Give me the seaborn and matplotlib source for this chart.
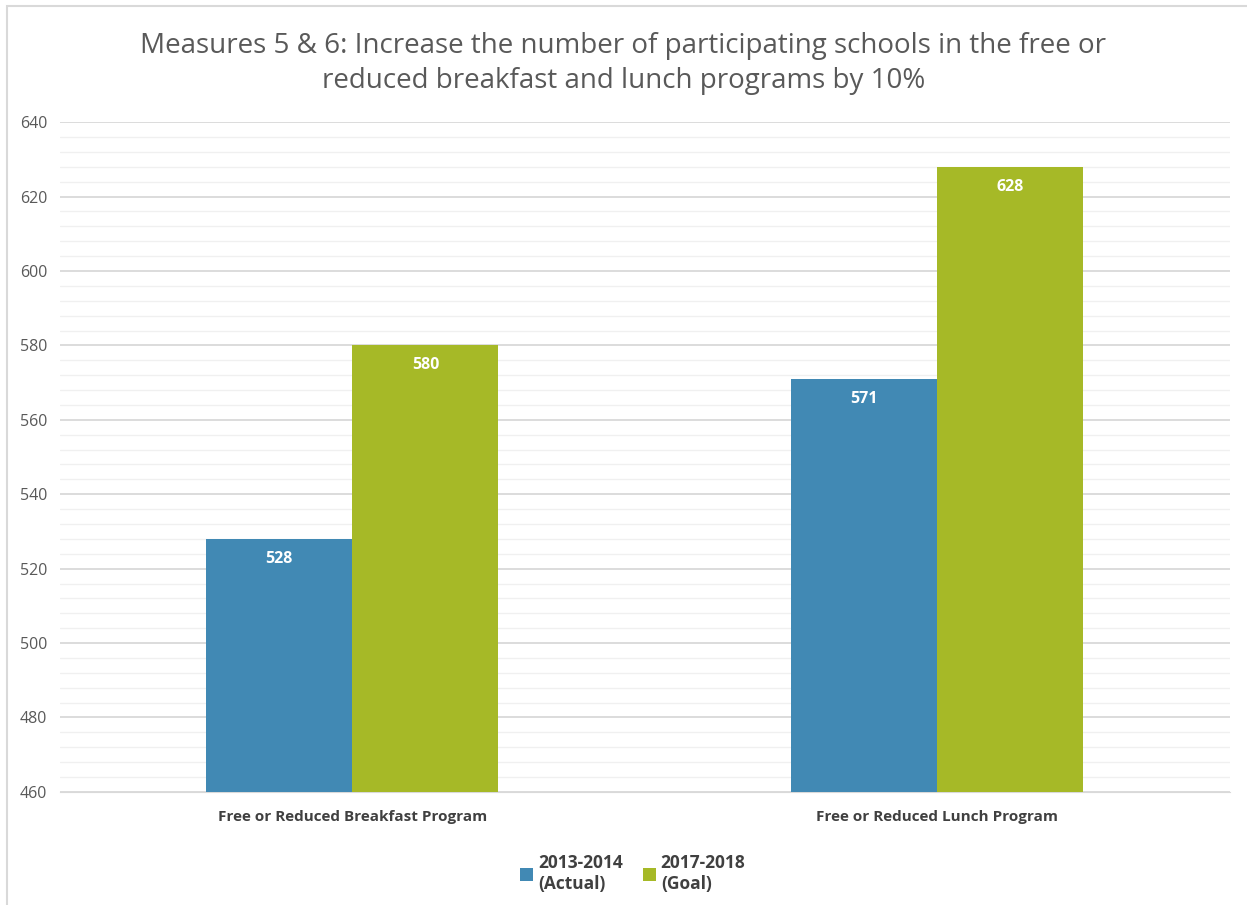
import numpy as np
import pandas as pd
import matplotlib
import matplotlib.pyplot as plt
import seaborn as sns
from matplotlib.patches import Rectangle
from matplotlib.ticker import MultipleLocator

# Data
programs = ["Free or Reduced Breakfast Program", "Free or Reduced Lunch Program"]
years = ["2013-2014\n(Actual)", "2017-2018\n(Goal)"]
actual_vals = [528, 571]
goal_vals = [580, 628]

df = pd.DataFrame({
    "Program": programs * 2,
    "Year": [years[0]] * 2 + [years[1]] * 2,
    "Schools": actual_vals + goal_vals,
})

sns.set_style("white")
plt.rcParams['font.family'] = ['Open Sans', 'DejaVu Sans']

palette = {years[0]: "#4189b4", years[1]: "#a6b927"}

fig = plt.figure(figsize=(12.47, 9.05), dpi=100)
ax = fig.add_axes([0.048, 0.125, 0.938, 0.74])

sns.barplot(data=df, x="Program", y="Schools", hue="Year", palette=palette,
            width=0.5, saturation=1, linewidth=0, ax=ax, zorder=3)

ax.set_ylim(460, 640)
ax.yaxis.set_major_locator(MultipleLocator(20))
ax.yaxis.set_minor_locator(MultipleLocator(4))
ax.grid(True, which="major", axis="y", color="#d9d9d9", linewidth=1.3, zorder=0)
ax.grid(True, which="minor", axis="y", color="#f0f0f0", linewidth=1.0, zorder=0)
ax.set_axisbelow(True)
for s in ["top", "right", "left"]:
    ax.spines[s].set_visible(False)
ax.spines["bottom"].set_color("#d9d9d9")
ax.tick_params(axis="y", length=0, labelsize=11.5, labelcolor="#595959", pad=9)
ax.tick_params(axis="x", length=0, labelsize=11, labelcolor="#404040", pad=13)
for lbl in ax.get_xticklabels():
    lbl.set_fontweight("bold")
ax.set_xlabel("")
ax.set_ylabel("")

# value labels inside the bars
for cont in ax.containers:
    ax.bar_label(cont, label_type="edge", padding=-20, color="white",
                 fontsize=11.5, fontweight="bold")

ax.legend(loc="upper center", bbox_to_anchor=(0.49, -0.07), ncol=2, frameon=False,
          handlelength=0.75, handleheight=0.75, handletextpad=0.25,
          columnspacing=1.2, labelcolor="#404040", prop={"weight": "bold", "size": 12.5})

fig.suptitle("Measures 5 & 6: Increase the number of participating schools in the free or\n"
             "reduced breakfast and lunch programs by 10%",
             y=0.965, fontsize=20, color="#595959", linespacing=1.35)

# light chart-area border
fig.add_artist(Rectangle((0.006, -0.01), 1.0, 1.003, transform=fig.transFigure,
                         fill=False, edgecolor="#d9d9d9", linewidth=1.5))

fig.savefig("out.png", dpi=100)
